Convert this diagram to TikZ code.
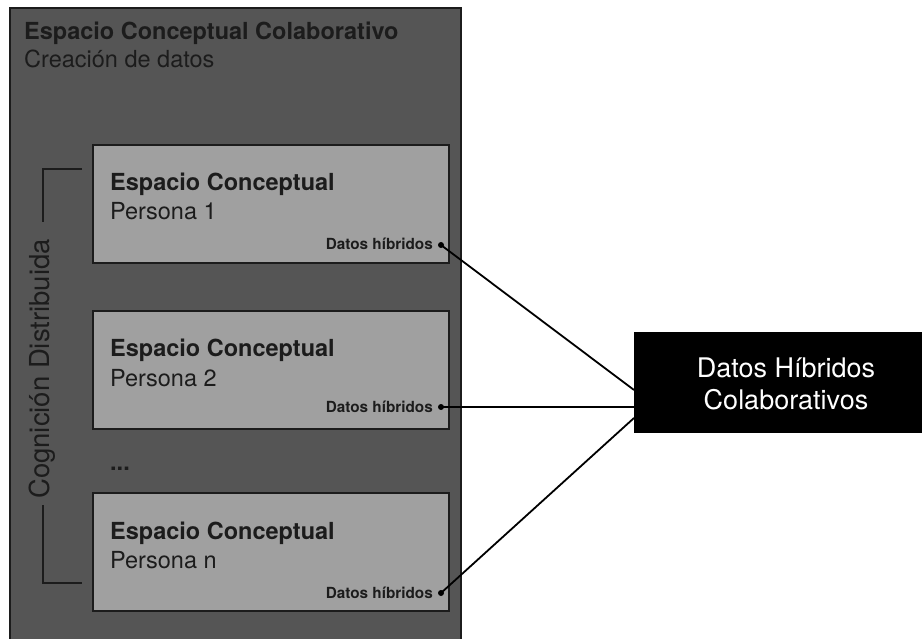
\documentclass[tikz,border=0pt]{standalone}
\usepackage{fontspec}
\setmainfont{TeX Gyre Heros}
\definecolor{outerfill}{HTML}{555555}
\definecolor{innerfill}{HTML}{A0A0A0}
\definecolor{edge}{HTML}{1C1C1C}
\tikzset{
  panel/.style={draw=edge, line width=2pt, fill=innerfill, minimum width=356pt, minimum height=118pt, anchor=north west, inner sep=0pt},
  headbold/.style={font=\fontsize{23.5}{27}\selectfont\bfseries, text=edge, anchor=base west, inner sep=0pt},
  headlight/.style={font=\fontsize{23.5}{27}\selectfont, text=edge, anchor=base west, inner sep=0pt},
  hybrid/.style={font=\fontsize{15.3}{18}\selectfont\bfseries, text=edge, anchor=base east, inner sep=0pt},
  dotmark/.style={circle, fill=black, inner sep=0pt, minimum size=6pt},
  link/.style={draw=black, line width=1.8pt},
}
\begin{document}
\begin{tikzpicture}[x=1pt, y=-1pt]
\useasboundingbox[fill=white] (0,0) rectangle (922,639);
\begin{scope}
\clip (0,0) rectangle (922,639);
% outer collaborative space
\draw[draw=edge, line width=2pt, fill=outerfill] (10,8) rectangle (461,645);
\node[headbold] (title) at (24,40) {Espacio Conceptual Colaborativo};
\node[headlight] (subtitle) at (24,68) {Creación de datos};

% individual conceptual spaces
\foreach \i/\y/\who in {1/144/1, 2/310/2, 3/492/n}{
  \node[panel] (p\i) at (92,\y) {};
  \node[headbold] (h\i) at (110,\y+47) {Espacio Conceptual};
  \node[headlight] (s\i) at (110,\y+76) {Persona \who};
}
\node[hybrid] (d1) at (433,250) {Datos híbridos};
\node[hybrid] (d2) at (433,412) {Datos híbridos};
\node[hybrid] (d3) at (433,598) {Datos híbridos};
\node[dotmark] (k1) at (441,245) {};
\node[dotmark] (k2) at (441,407) {};
\node[dotmark] (k3) at (441,593) {};

\node[headbold] (dots) at (110,470) {...};

% distributed cognition bracket
\coordinate (bt) at (82,169);
\coordinate (bb) at (82,583);
\draw[draw=edge, line width=1.8pt] (bt) -- (43,169) -- (43,222);
\draw[draw=edge, line width=1.8pt] (bb) -- (43,583) -- (43,505);
\node[rotate=90, font=\fontsize{27.5}{32}\selectfont, text=edge, inner sep=0pt] (cog) at (42,369) {Cognición Distribuida};

% collaborative hybrid data
\node[fill=black, minimum width=300pt, minimum height=101pt, anchor=north west, inner sep=0pt] (hub) at (634,332) {};
\node[font=\fontsize{27}{32}\selectfont, text=white, align=center] (hubtext) at (786,384) {Datos Híbridos\\Colaborativos};
\coordinate (e1) at (634,390);
\coordinate (e2) at (634,407);
\coordinate (e3) at (634,418);
\draw[link] (k1.center) -- (e1);
\draw[link] (k2.center) -- (e2);
\draw[link] (k3.center) -- (e3);
\end{scope}
\end{tikzpicture}
\end{document}
